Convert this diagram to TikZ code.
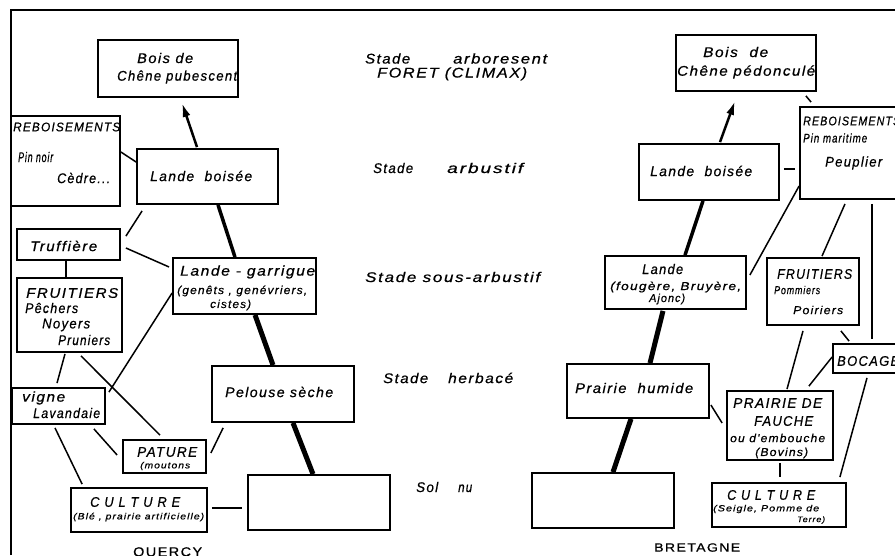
\documentclass[tikz,border=0pt]{standalone}
\usepackage{fontspec}
\usepackage{graphicx}
\setmainfont{Liberation Sans}
\newfontfamily\stf[LetterSpace=10,FakeBold=0.6]{Liberation Sans}
\usetikzlibrary{arrows.meta}
\newlength\natw
\newcommand\fw[2]{\settowidth\natw{#2}\pgfmathsetmacro\fwsx{#1/\natw}\scalebox{\fwsx}[1]{#2}}
\begin{document}
\begin{tikzpicture}[x=1pt,y=-1pt,
  bx/.style={draw, line width=1.8pt, inner sep=0pt},
  cn/.style={line width=1.5pt},
  thk/.style={line width=3.5pt},
  thkk/.style={line width=5pt},
  arr/.style={line width=2.5pt, -{Latex[length=14pt,width=8pt]}},
  gapped/.style={preaction={draw, white, line width=6pt, shorten <=12pt, shorten >=12pt}},
  tx/.style={anchor=west, inner sep=0pt, font=\stf\itshape\fontsize{14}{14}\selectfont},
  tcap/.style={tx, font=\stf\itshape\fontsize{14}{14}\selectfont},
  tsm/.style={tx, font=\stf\itshape\fontsize{11.5}{11.5}\selectfont},
  tti/.style={tx, font=\stf\itshape\fontsize{9}{9}\selectfont},
  tup/.style={tx, font=\stf\fontsize{13}{13}\selectfont},
  tmid/.style={tx, font=\stf\itshape\fontsize{14}{14}\selectfont}]
\useasboundingbox (0,0) rectangle (895,555);
\fill[white] (0,0) rectangle (895,555);
% frame
\coordinate (ftl) at (11,10);
\coordinate (ftr) at (895,10);
\coordinate (fbl) at (11,555);
\draw[line width=1.5pt] (fbl) -- (ftl) -- (ftr);

% ---------- QUERCY boxes ----------
\node[bx, minimum width=140pt, minimum height=57pt] (bois1) at (168,68.5) {};
\node[bx, minimum width=109pt, minimum height=90pt] (reb1) at (65.5,161) {};
\node[bx, minimum width=141pt, minimum height=55pt] (lb1) at (207.5,176.5) {};
\node[bx, minimum width=103pt, minimum height=31pt] (truf) at (68.5,244.5) {};
\node[bx, minimum width=105pt, minimum height=74pt] (fruit1) at (69.5,315) {};
\node[bx, minimum width=143pt, minimum height=56pt] (lg) at (244.5,286) {};
\node[bx, minimum width=142pt, minimum height=56pt] (pel) at (283,394) {};
\node[bx, minimum width=142pt, minimum height=55pt] (sol1) at (319,502.5) {};
\node[bx, minimum width=93pt, minimum height=36pt] (vigne) at (58.5,406) {};
\node[bx, minimum width=83pt, minimum height=33pt] (pat) at (164.5,456.5) {};
\node[bx, minimum width=136pt, minimum height=44pt] (cult1) at (139,510) {};

% ---------- BRETAGNE boxes ----------
\node[bx, minimum width=140pt, minimum height=56pt] (bois2) at (746,63) {};
\node[bx, minimum width=105pt, minimum height=92pt] (reb2) at (852.5,153) {};
\node[bx, minimum width=140pt, minimum height=56pt] (lb2) at (709,172) {};
\node[bx, minimum width=141pt, minimum height=53pt] (lande2) at (675.5,282.5) {};
\node[bx, minimum width=92pt, minimum height=67pt] (fruit2) at (813,291.5) {};
\node[bx, minimum width=72pt, minimum height=29pt] (bocage) at (869,358.5) {};
\node[bx, minimum width=142pt, minimum height=54pt] (ph) at (638,391) {};
\node[bx, minimum width=106pt, minimum height=69pt] (pdf) at (780,425.5) {};
\node[bx, minimum width=134pt, minimum height=44pt] (cult2) at (779,505) {};
\node[bx, minimum width=142pt, minimum height=55pt] (sol2) at (603,500.5) {};

% ---------- QUERCY connectors ----------
\draw[arr] ([xshift=-10.5pt,yshift=1pt]lb1.north) -- ([xshift=14pt,yshift=-5pt]bois1.south);
\draw[cn] ([yshift=9pt]reb1.east) -- ([yshift=14.5pt]lb1.west);
\draw[cn] ([xshift=6pt,yshift=-6pt]lb1.south west) -- ([xshift=5pt,yshift=-8pt]truf.north east);
\draw[thk] ([xshift=10.5pt]lb1.south) -- ([xshift=-9.5pt]lg.north);
\draw[cn] ([xshift=5pt,yshift=-3.5pt]truf.east) -- ([xshift=-3pt,yshift=19pt]lg.west);
\draw[cn] ([xshift=-2.5pt]truf.south) -- ([xshift=-3.5pt]fruit1.north);
\draw[cn] ([xshift=11.5pt,yshift=-3pt]fruit1.south) -- ([xshift=-4.5pt,yshift=4pt]pat.north);
\draw[cn, gapped] ([yshift=-7pt]lg.west) -- ([xshift=3pt,yshift=-5pt]vigne.north east);
\draw[cn] ([xshift=-4.5pt,yshift=-1pt]fruit1.south) -- ([xshift=-1.5pt,yshift=4pt]vigne.north);
\draw[cn] ([xshift=-12pt,yshift=-4pt]vigne.south east) -- ([xshift=-5pt,yshift=1.5pt]pat.west);
\draw[cn] ([xshift=-3.5pt,yshift=-3pt]vigne.south) -- ([xshift=12pt,yshift=3pt]cult1.north west);
\draw[cn] ([xshift=4pt,yshift=3.5pt]pat.east) -- ([xshift=12pt,yshift=-5pt]pel.south west);
\draw[thkk] ([xshift=10.5pt]lg.south) -- ([xshift=-10pt]pel.north);
\draw[thkk] ([xshift=10pt]pel.south) -- ([xshift=-6pt]sol1.north);
\draw[cn] ([xshift=4pt,yshift=2pt]cult1.east) -- ([xshift=-5pt,yshift=-5.5pt]sol1.west);

% ---------- BRETAGNE connectors ----------
\draw[arr] ([xshift=11pt,yshift=1pt]lb2.north) -- ([xshift=-11pt,yshift=-9pt]bois2.south);
\draw[cn] ([xshift=-11pt,yshift=-4pt]bois2.south east) -- ([xshift=12pt,yshift=4pt]reb2.north west);
\draw[line width=2.5pt] ([xshift=4pt,yshift=3pt]lb2.east) -- ([xshift=-4pt,yshift=-16pt]reb2.west);
\draw[cn] ([yshift=-33pt]reb2.west) -- ([xshift=3pt,yshift=7.5pt]lande2.east);
\draw[thk] ([xshift=-6pt]lb2.south) -- ([xshift=9.5pt]lande2.north);
\draw[cn] ([xshift=-7.5pt,yshift=-4pt]reb2.south) -- ([xshift=9pt,yshift=1pt]fruit2.north);
\draw[cn] ([xshift=19.5pt,yshift=-4pt]reb2.south) -- ([xshift=3pt,yshift=4pt]bocage.north);
\draw[cn] ([xshift=-19pt,yshift=-5pt]fruit2.south east) -- ([xshift=17pt,yshift=2pt]bocage.north west);
\draw[cn] ([xshift=-10pt,yshift=-5pt]fruit2.south) -- ([xshift=7pt,yshift=1pt]pdf.north);
\draw[cn] ([yshift=1.5pt]bocage.west) -- ([xshift=-25pt,yshift=4pt]pdf.north east);
\draw[cn] ([xshift=-2pt,yshift=-4pt]bocage.south) -- ([xshift=-7pt,yshift=5pt]cult2.north east);
\draw[cn] ([xshift=1pt,yshift=-14pt]ph.east) -- ([xshift=-4pt,yshift=2.5pt]pdf.west);
\draw[cn] ([yshift=-2pt]pdf.south) -- ([xshift=1pt,yshift=5pt]cult2.north);
\draw[thkk] ([xshift=-12.5pt,yshift=-1pt]lande2.south) -- ([xshift=12pt]ph.north);
\draw[thkk] ([xshift=-7pt]ph.south) -- ([xshift=10pt]sol2.north);

% ---------- QUERCY texts ----------
\node[tx] (t1) at (137,58) {\fw{56}{Bois de}};
\node[tx] (t2) at (117,77) {\fw{120}{Chêne pubescent}};
\node[tx, font=\stf\itshape\fontsize{12.5}{12.5}\selectfont] (t3) at (13,127) {\fw{107}{REBOISEMENTS}};
\node[tx] (t4) at (18,157) {\fw{35}{Pin noir}};
\node[tx] (t5) at (57,178) {\fw{53}{Cèdre...}};
\node[tx] (t6) at (150,176) {\fw{102}{Lande\ \ boisée}};
\node[tx] (t7) at (30,246) {\fw{67}{Truffière}};
\node[tx] (t8) at (180,272) {\fw{135}{Lande - garrigue}};
\node[tsm] (t9) at (177,291) {\fw{130}{(genêts , genévriers,}};
\node[tsm] (t10) at (210,305) {\fw{41}{cistes)}};
\node[tcap] (t11) at (26,293) {\fw{92}{FRUITIERS}};
\node[tx] (t12) at (25,308) {\fw{53}{Pêchers}};
\node[tx] (t13) at (42,325) {\fw{48}{Noyers}};
\node[tx] (t14) at (58,340) {\fw{52}{Pruniers}};
\node[tx] (t15) at (22,398) {\fw{43}{vigne}};
\node[tx] (t16) at (33,413) {\fw{67}{Lavandaie}};
\node[tx] (t22) at (225,392) {\fw{108}{Pelouse sèche}};
\node[tcap] (t17) at (137,452) {\fw{60}{PATURE}};
\node[tti] (t18) at (140,466) {\fw{50}{(moutons}};
\node[tcap] (t19) at (90,502) {\fw{90}{C U L T U R E}};
\node[tti] (t20) at (73,517) {\fw{131}{(Blé , prairie artificielle)}};
\node[tup] (t21) at (133,553) {\fw{69}{QUERCY}};

% ---------- stage labels ----------
\node[tmid, anchor=base west] (m1) at (365,63.5) {\fw{45}{Stade}\hspace{43pt}\fw{94}{arboresent}};
\node[tmid, anchor=base west] (m2) at (377,77.5) {\fw{150}{FORET (CLIMAX)}};
\node[tmid] (m3) at (373,168) {\fw{40}{Stade}\hspace{34pt}\fw{76}{arbustif}};
\node[tmid] (m4) at (365,277) {\fw{175}{Stade sous-arbustif}};
\node[tmid] (m5) at (383,378) {\fw{45}{Stade}\hspace{20pt}\fw{65}{herbacé}};
\node[tmid] (m6) at (416,487) {\fw{22}{Sol}\hspace{20pt}\fw{14}{nu}};

% ---------- BRETAGNE texts ----------
\node[tx] (r1) at (703,52) {\fw{65}{Bois\ \ de}};
\node[tx] (r2) at (677,72) {\fw{138}{Chêne pédonculé}};
\node[tcap, font=\stf\itshape\fontsize{12.5}{12.5}\selectfont] (r3) at (803,121) {\fw{97}{REBOISEMENTS}};
\node[tx, font=\stf\itshape\fontsize{12.5}{12.5}\selectfont] (r4) at (803,138) {\fw{64}{Pin maritime}};
\node[tx] (r5) at (825,163) {\fw{57}{Peuplier}};
\node[tx] (r6) at (650,171) {\fw{102}{Lande\ \ boisée}};
\node[tx] (r7) at (642,269) {\fw{41}{Lande}};
\node[tsm] (r8) at (610,287) {\fw{131}{(fougère, Bruyère,}};
\node[tsm] (r9) at (649,299) {\fw{36}{Ajonc)}};
\node[tcap] (r10) at (777,274) {\fw{75}{FRUITIERS}};
\node[tsm] (r11) at (774,290) {\fw{46}{Pommiers}};
\node[tsm] (r12) at (793,310) {\fw{50}{Poiriers}};
\node[tcap] (r13) at (837,361) {\fw{62}{BOCAGE}};
\node[tx] (r14) at (575,388) {\fw{118}{Prairie\ \ humide}};
\node[tcap] (r15) at (733,403) {\fw{89}{PRAIRIE DE}};
\node[tcap] (r16) at (754,421) {\fw{59}{FAUCHE}};
\node[tsm] (r17) at (730,438) {\fw{95}{ou d'embouche}};
\node[tsm] (r18) at (755,453) {\fw{53}{(Bovins)}};
\node[tcap] (r19) at (727,495) {\fw{88}{C U L T U R E}};
\node[tti] (r20) at (713,509) {\fw{106}{(Seigle, Pomme de}};
\node[tti, font=\stf\itshape\fontsize{8}{8}\selectfont] (r21) at (797,520) {\fw{28}{Terre)}};
\node[tup, font=\stf\fontsize{12}{12}\selectfont] (r22) at (654,547.5) {\fw{86}{BRETAGNE}};
\end{tikzpicture}
\end{document}
